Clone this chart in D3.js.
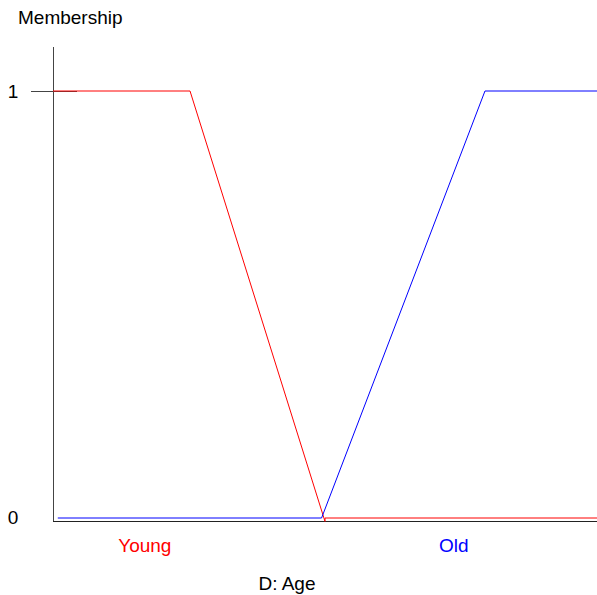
<!DOCTYPE html>
<html>
<head>
<meta charset="utf-8">
<script src="https://cdn.jsdelivr.net/npm/d3@7"></script>
<style>
  body { margin: 0; background: #fff; }
  text { font-family: "Liberation Sans", Arial, sans-serif; }
</style>
</head>
<body>
<div id="chart"></div>
<script>
// membership functions (age, membership)
const youngAge = [0, 20, 39.7, 39.7, 79.4];
const youngMembership = [1, 1, -0.008, 0, 0];
const oldAge = [0.7, 39.2, 63.05, 79.4];
const oldMembership = [0, 0, 1, 1];
const yTicks = [0, 1];
const setLabels = ["Young", "Old"];
const setLabelAges = [13.4, 58.5];
const setColors = ["#ff0000", "#0000ff"];

const width = 597, height = 595;

const svg = d3.select("#chart").append("svg")
  .attr("width", width)
  .attr("height", height);

const x = d3.scaleLinear().domain([0, 79.4]).range([53, 597]);
const y = d3.scaleLinear().domain([0, 1]).range([518, 91]);

// axes
svg.append("line")
  .attr("x1", 53.5).attr("x2", 53.5)
  .attr("y1", 47).attr("y2", 521)
  .attr("stroke", "#444");
svg.append("line")
  .attr("x1", 53).attr("x2", 597)
  .attr("y1", 521.5).attr("y2", 521.5)
  .attr("stroke", "#222");

// tick on membership 1
svg.append("line")
  .attr("x1", 31).attr("x2", 77)
  .attr("y1", Math.round(y(1)) + 0.5).attr("y2", Math.round(y(1)) + 0.5)
  .attr("stroke", "#444");

svg.selectAll(".ytick")
  .data(yTicks)
  .enter().append("text")
  .attr("class", "ytick")
  .attr("x", 13)
  .attr("y", d => d === 0 ? 517 : y(d))
  .attr("dy", "0.35em")
  .attr("text-anchor", "middle")
  .attr("font-size", 19)
  .text(d => d);

const line = d3.line()
  .x(d => x(d[0]))
  .y(d => y(d[1]));

const series = [
  d3.zip(youngAge, youngMembership),
  d3.zip(oldAge, oldMembership)
];

svg.selectAll(".mf")
  .data(series)
  .enter().append("path")
  .attr("class", "mf")
  .attr("d", line)
  .attr("fill", "none")
  .attr("stroke", (d, i) => setColors[i])
  .attr("stroke-width", 1);

svg.selectAll(".setlabel")
  .data(setLabels)
  .enter().append("text")
  .attr("class", "setlabel")
  .attr("x", (d, i) => x(setLabelAges[i]))
  .attr("y", 545)
  .attr("dy", "0.35em")
  .attr("text-anchor", "middle")
  .attr("font-size", 19)
  .attr("fill", (d, i) => setColors[i])
  .text(d => d);

svg.append("text")
  .attr("x", 18)
  .attr("y", 17)
  .attr("dy", "0.35em")
  .attr("font-size", 19)
  .text("Membership");

svg.append("text")
  .attr("x", 287)
  .attr("y", 583)
  .attr("dy", "0.35em")
  .attr("text-anchor", "middle")
  .attr("font-size", 19)
  .text("D: Age");
</script>
</body>
</html>
